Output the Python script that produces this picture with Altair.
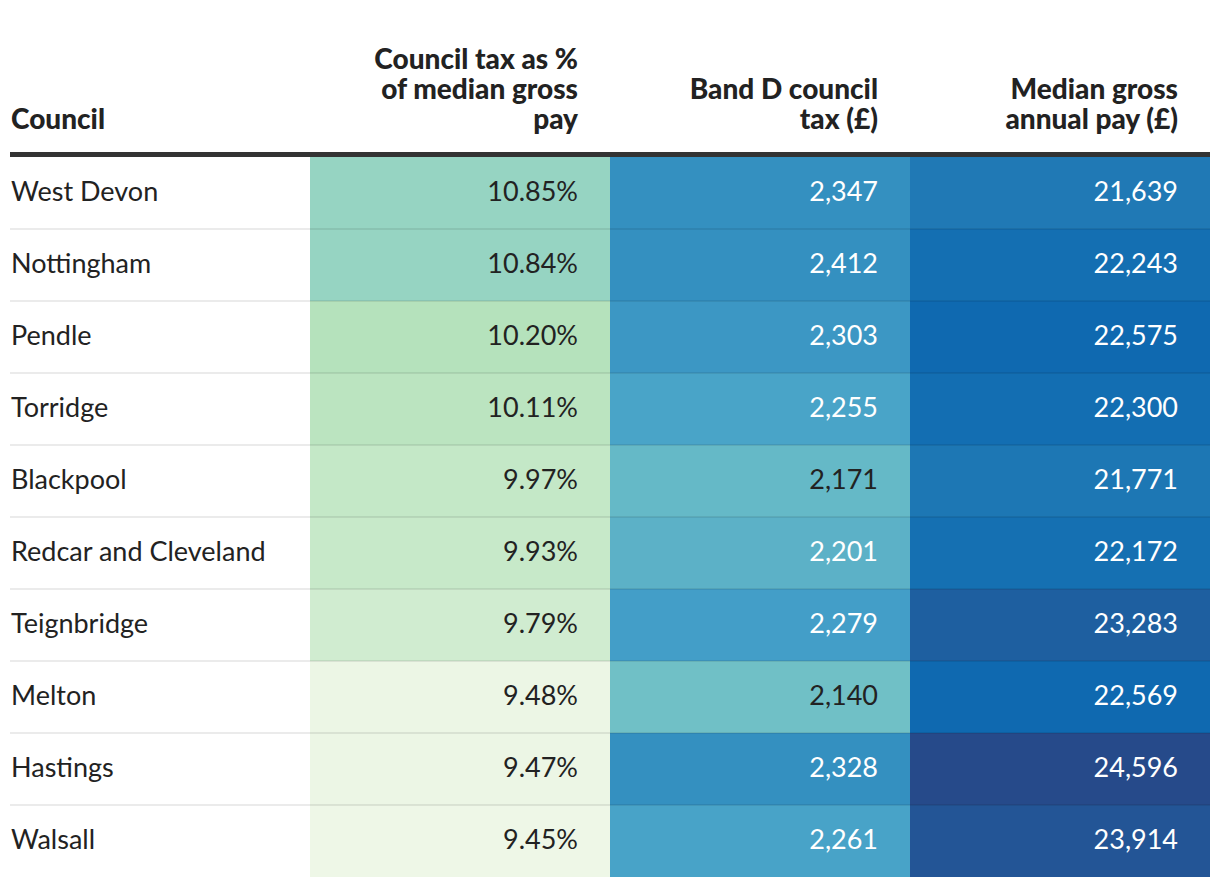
import altair as alt
import pandas as pd

# ---- data ----
councils = ["West Devon", "Nottingham", "Pendle", "Torridge", "Blackpool",
            "Redcar and Cleveland", "Teignbridge", "Melton", "Hastings", "Walsall"]
pct_of_pay = [10.85, 10.84, 10.20, 10.11, 9.97, 9.93, 9.79, 9.48, 9.47, 9.45]
band_d_tax = [2347, 2412, 2303, 2255, 2171, 2201, 2279, 2140, 2328, 2261]
median_pay = [21639, 22243, 22575, 22300, 21771, 22172, 23283, 22569, 24596, 23914]

columns = ["council", "pct", "band", "pay"]
header_text = ["Council",
               "Council tax as %\nof median gross\npay",
               "Band D council\ntax (£)",
               "Median gross\nannual pay (£)"]

FONT = "Lato"
W, H = 1200, 720
LINE_H = 30

# ---- tables ----
names = pd.DataFrame({"council": councils, "col": "council"})
long_rows = []
for c, p, b, m in zip(councils, pct_of_pay, band_d_tax, median_pay):
    long_rows.append({"council": c, "col": "pct", "value": p, "label": f"{p:.2f}%"})
    long_rows.append({"council": c, "col": "band", "value": b, "label": f"{b:,}"})
    long_rows.append({"council": c, "col": "pay", "value": m, "label": f"{m:,}"})
long = pd.DataFrame(long_rows)

x_scale = alt.Scale(domain=columns, paddingInner=0, paddingOuter=0)
y_scale = alt.Scale(domain=councils, paddingInner=0, paddingOuter=0)

color_specs = {
    "pct": ([9.45, 9.79, 10.2, 10.85], ["#eef7e7", "#d0ecd0", "#b5e2bc", "#96d4c2"]),
    "band": ([2140, 2201, 2279, 2328], ["#70c0c6", "#5cb1c7", "#439ec8", "#3490c0"]),
    "pay": ([21639, 22570, 23283, 24596], ["#2079b5", "#0f69b0", "#1e5fa0", "#264a8a"]),
}


def rect_layer(col):
    dom, rng = color_specs[col]
    return alt.Chart(long[long["col"] == col]).mark_rect().encode(
        x=alt.X("col:N", scale=x_scale, axis=None),
        y=alt.Y("council:N", scale=y_scale, axis=None),
        color=alt.Color("value:Q", scale=alt.Scale(domain=dom, range=rng, clamp=True), legend=None),
    )


rects = [rect_layer(c) for c in ["pct", "band", "pay"]]

separators = alt.Chart(pd.DataFrame({"council": councils[1:]})).mark_rule(
    strokeWidth=2, color="black", opacity=0.08
).encode(
    y=alt.Y("council:N", scale=y_scale, bandPosition=0, axis=None),
    x=alt.value(0), x2=alt.value(W),
)

header_rule = alt.Chart(pd.DataFrame({"a": [0]})).mark_rule(
    strokeWidth=5, color="#333333"
).encode(y=alt.value(-2.5), x=alt.value(0), x2=alt.value(W))

name_text = alt.Chart(names).mark_text(
    align="left", baseline="alphabetic", dx=1, dy=8, font=FONT, fontSize=27, color="#222222"
).encode(
    x=alt.X("col:N", scale=x_scale, bandPosition=0, axis=None),
    y=alt.Y("council:N", scale=y_scale, axis=None),
    text="council:N",
)

value_text = alt.Chart(long).mark_text(
    align="right", baseline="alphabetic", dx=-32, dy=8, font=FONT, fontSize=27
).encode(
    x=alt.X("col:N", scale=x_scale, bandPosition=1, axis=None),
    y=alt.Y("council:N", scale=y_scale, axis=None),
    text="label:N",
    color=alt.condition(
        "datum.col == 'pct' || (datum.col == 'band' && datum.value < 2180)",
        alt.value("#222222"), alt.value("#ffffff")),
)


def header_layer(col, text):
    n_lines = text.count("\n") + 1
    left = col == "council"
    return alt.Chart(pd.DataFrame({"col": [col], "text": [text]})).mark_text(
        align="left" if left else "right", baseline="alphabetic",
        dx=1 if left else -32, font=FONT, fontSize=28, fontWeight=900,
        color="#222222", lineBreak="\n", lineHeight=LINE_H
    ).encode(
        x=alt.X("col:N", scale=x_scale, bandPosition=0 if left else 1, axis=None),
        y=alt.value(-28 - LINE_H * (n_lines - 1)), text="text:N",
    )


heads = [header_layer(c, t) for c, t in zip(columns, header_text)]

chart = alt.layer(
    *rects, separators, header_rule, name_text, value_text, *heads
).resolve_scale(color="independent").properties(
    width=W, height=H,
    padding={"left": 2, "top": 149, "right": 0, "bottom": 0},
    autosize=alt.AutoSizeParams(type="none"),
    background="white",
).configure_view(stroke=None)

chart.save("out.html", embed_options={"renderer": "svg", "actions": False})
